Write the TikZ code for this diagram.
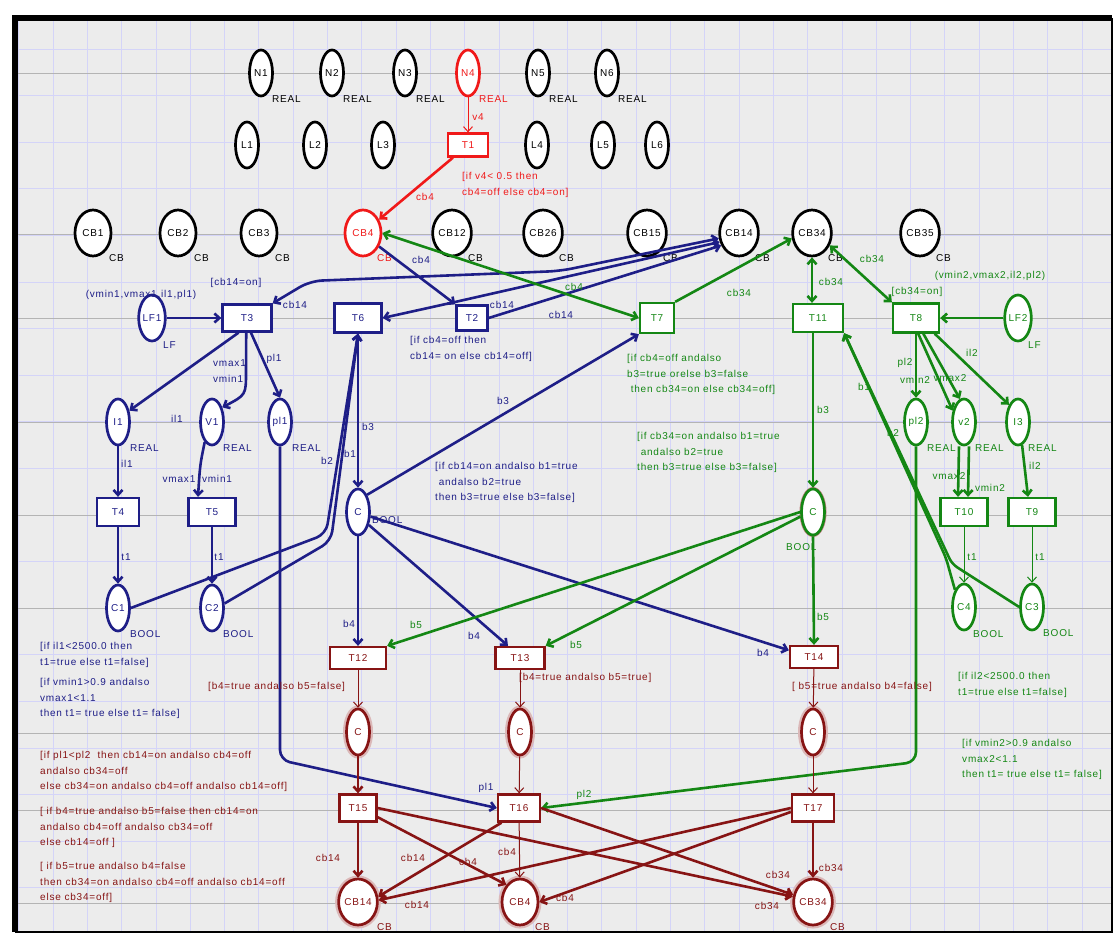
\documentclass[tikz,border=0pt]{standalone}
\usepackage{fontspec}
\setmainfont{Liberation Sans}[LetterSpace=8.0]
\usetikzlibrary{arrows.meta,shapes.geometric}
\definecolor{navyc}{RGB}{30,30,135}
\definecolor{grnc}{RGB}{20,135,20}
\definecolor{redc}{RGB}{240,25,25}
\definecolor{dredc}{RGB}{135,20,20}
\definecolor{bgc}{RGB}{236,236,236}
\definecolor{gridc}{RGB}{212,212,248}
\definecolor{guidec}{RGB}{180,180,180}

\tikzset{
  place/.style={ellipse, draw, line width=2.7pt, fill=white, inner sep=0pt,
    minimum width=23pt, minimum height=46pt},
  cbplace/.style={place, minimum width=36pt},
  trans/.style={rectangle, draw, line width=2.3pt, fill=white, inner sep=0pt,
    minimum width=46pt, minimum height=27pt},
  glow/.style={preaction={draw=dredc!30, line width=7pt}},
  arc/.style={->, line width=2.6pt},
  tarc/.style={->, line width=1pt},
  lbl/.style={inner sep=0pt},
  typ/.style={inner sep=0pt, anchor=west},
  cond/.style={inner sep=0pt, anchor=north west, align=left}
}

\begin{document}
\begin{tikzpicture}[x=1pt, y=-1pt, >={Straight Barb[length=5pt,width=9pt]},
  font=\fontsize{10}{15.7}\selectfont]
\useasboundingbox (0,0) rectangle (1116,935);
% sheet and grid
\fill[white] (0,0) rectangle (1116,935);
\fill[bgc] (15,18) rectangle (1112,932);
\begin{scope}
\clip (15,18) rectangle (1112,932);
\foreach \i in {0,...,31}
  \draw[gridc, line width=0.8pt] ({18.7+34.3*\i},18) -- ++(0,914);
\foreach \j in {0,...,18}
  \draw[gridc, line width=0.8pt] (15,{49+46.6*\j}) -- ++(1097,0);
\foreach \y in {73,234,318,422,515,608,733,810,903}
  \draw[guidec, line width=0.8pt] (15,\y) -- ++(1097,0);
\end{scope}
\draw[line width=6pt] (15,932) -- (15,18) -- (1112,18);
\draw[line width=2.5pt] (1112,18) -- (1112,932) -- (15,932);

% top rows
\foreach \n/\x in {1/261,2/332,3/405,5/538,6/607}{
  \node[place] (N\n) at (\x,73) {N\n};
  \node[typ] (tN\n) at (\x+11,99) {REAL};
}
\node[place, draw=redc, text=redc] (N4) at (468,73) {N4};
\node[typ, text=redc] (tN4) at (479,99) {REAL};
\foreach \n/\x in {1/247,2/315,3/383,4/537,5/603,6/657}
  \node[place] (L\n) at (\x,145) {L\n};
\foreach \n/\x in {1/93,2/178,3/259,12/452,26/543,15/647,14/739,34/812,35/920}{
  \node[cbplace] (CB\n) at (\x,233) {CB\n};
  \node[typ] (tCB\n) at (\x+16,258) {CB};
}
\node[cbplace, draw=redc, text=redc] (CB4) at (363,233) {CB4};
\node[typ, text=redc] (tCB4) at (377,258) {CB};
\node[trans, draw=redc, text=redc, minimum width=40pt, minimum height=23pt] (T1) at (468,145) {T1};

% feeder 1
\begin{scope}[color=navyc]
\node[place] (LF1) at (152,318) {LF1};
\node[typ] (tLF1) at (163,345) {LF};
\node[trans, minimum width=49pt] (T3) at (247,318) {T3};
\node[trans, minimum width=47pt, minimum height=29pt] (T6) at (358,318) {T6};
\node[trans, minimum width=31pt, minimum height=25pt] (T2) at (472,318) {T2};
\node[place] (I1) at (118,422) {I1};
\node[place] (V1) at (212,422) {V1};
\node[place] (pl1) at (280,422) {pl1};
\node[typ] (tI1) at (130,448) {REAL};
\node[typ] (tV1) at (223,448) {REAL};
\node[typ] (tpl1) at (292,448) {REAL};
\node[trans, minimum width=42pt, minimum height=28pt] (T4) at (118,512) {T4};
\node[trans, minimum width=47pt, minimum height=28pt] (T5) at (212,512) {T5};
\node[place] (C1) at (118,608) {C1};
\node[place] (C2) at (212,608) {C2};
\node[typ] (tC1) at (130,634) {BOOL};
\node[typ] (tC2) at (223,634) {BOOL};
\node[place] (Cb) at (358,512) {C};
\node[typ] (tCb) at (372,520) {BOOL};
\end{scope}

% feeder 2
\begin{scope}[color=grnc]
\node[place] (LF2) at (1018,318) {LF2};
\node[typ] (tLF2) at (1028,345) {LF};
\node[trans, minimum width=34pt, minimum height=30pt] (T7) at (657,318) {T7};
\node[trans, minimum width=50pt, minimum height=28pt] (T11) at (818,318) {T11};
\node[trans, minimum width=46pt, minimum height=29pt] (T8) at (916,318) {T8};
\node[place] (pl2) at (916,422) {pl2};
\node[place] (v2) at (964,422) {v2};
\node[place] (I3) at (1018,422) {I3};
\node[typ] (tpl2) at (927,448) {REAL};
\node[typ] (tv2) at (975,448) {REAL};
\node[typ] (tI3) at (1028,448) {REAL};
\node[trans, minimum width=47pt, minimum height=28pt] (T10) at (964,512) {T10};
\node[trans, minimum width=47pt, minimum height=28pt] (T9) at (1032,512) {T9};
\node[place] (C4) at (964,607) {C4};
\node[place] (C3) at (1032,607) {C3};
\node[typ] (tC4) at (973,634) {BOOL};
\node[typ] (tC3) at (1043,633) {BOOL};
\node[place, preaction={draw=dredc!55, line width=4pt}] (Cg) at (813,512) {C};
\node[typ] (tCg) at (786,547) {BOOL};
\end{scope}

% breaker logic
\begin{scope}[color=dredc]
\node[trans, minimum width=56pt, minimum height=22pt] (T12) at (358,658) {T12};
\node[trans, minimum width=49pt, minimum height=22pt] (T13) at (520,658) {T13};
\node[trans, minimum width=48pt, minimum height=22pt] (T14) at (814,657) {T14};
\node[place, glow] (Cr1) at (358,732) {C};
\node[place, glow] (Cr2) at (520,732) {C};
\node[place, glow] (Cr3) at (813,732) {C};
\node[trans, minimum width=37pt] (T15) at (358,808) {T15};
\node[trans, minimum width=42pt] (T16) at (519,808) {T16};
\node[trans, minimum width=42pt] (T17) at (813,808) {T17};
\node[cbplace, glow] (CBr14) at (358,902) {CB14};
\node[cbplace, glow] (CBr4) at (520,902) {CB4};
\node[cbplace, glow] (CBr34) at (813,902) {CB34};
\node[typ] (tCBr14) at (377,927) {CB};
\node[typ] (tCBr4) at (535,927) {CB};
\node[typ] (tCBr34) at (830,927) {CB};
\end{scope}

% arcs: red
\draw[tarc, redc] (N4) -- (T1);
\node[lbl, text=redc] (a1) at (478,117) {v4};
\draw[arc, redc] (T1) -- (CB4);
\node[lbl, text=redc] (a2) at (425,197) {cb4};
\node[cond, text=redc] (g1) at (462,172) {[if v4< 0.5 then\\cb4=off else cb4=on]};

% arcs: feeder 1
\begin{scope}[color=navyc]
\draw[arc] (LF1) -- (T3);
\draw[arc, <->, rounded corners=12pt] (CB14.195) -- (560,271) -- (310,281) -- (T3.north east);
\node[lbl] (a3) at (295,305) {cb14};
\draw[arc, <->] (CB14.205) -- (455,302) -- (T6.east);
\node[lbl] (a4) at (502,305) {cb14};
\draw[arc] (T2.east) -- (CB14.215);
\node[lbl] (a5) at (561,315) {cb14};
\draw[arc] (CB4.-40) -- (T2.north west);
\node[lbl] (a6) at (421,260) {cb4};
\draw[arc] (T3.-120) -- (I1.45);
\node[lbl] (a7) at (177,419) {il1};
\draw[arc] (T3.-93) -- (246,372) .. controls (246,395) .. (V1.55);
\node[lbl, anchor=west, align=left] (a8) at (213,371) {vmax1\\[-0.5pt]vmin1};
\draw[arc] (T3.-75) -- (pl1.north);
\node[lbl] (a9) at (274,359) {pl1};
\draw[arc] (I1) -- (T4);
\node[lbl] (a10) at (127,464) {il1};
\draw[arc] (V1.-110) .. controls (200,465) .. ([xshift=-14pt]T5.north);
\node[lbl] (a11) at (179,479) {vmax1};
\node[lbl] (a12) at (217,479) {vmin1};
\draw[arc] (T4) -- (C1);
\node[lbl] (a13) at (126,557) {t1};
\draw[arc] (T5) -- (C2);
\node[lbl] (a14) at (219,557) {t1};
\draw[arc, rounded corners=10pt] (C1.east) -- (326,534) -- (T6.south);
\draw[arc, rounded corners=10pt] (C2.20) -- (331,541) -- (T6.south);
\node[lbl] (a15) at (327,461) {b2};
\node[lbl] (a16) at (350,454) {b1};
\draw[arc] (T6.south) -- (Cb.north);
\node[lbl] (a17) at (368,427) {b3};
\draw[arc] (Cb.north east) -- (T7.south west);
\node[lbl] (a18) at (503,401) {b3};
\draw[arc] (Cb.south) -- (T12.north);
\node[lbl] (a19) at (349,624) {b4};
\draw[arc] (Cb.-50) -- ([xshift=-12pt]T13.north);
\node[lbl] (a20) at (474,636) {b4};
\draw[arc] (Cb.-20) -- (T14.165);
\node[lbl] (a21) at (763,653) {b4};
\draw[arc, rounded corners=10pt] (pl1.south) -- (280,760) -- (T16.west);
\node[lbl] (a22) at (486,788) {pl1};
\node[lbl] (g2) at (236,283) {[cb14=on]};
\node[lbl] (g3) at (141,295) {(vmin1,vmax1,il1,pl1)};
\node[cond] (g4) at (410,336) {[if cb4=off then\\cb14= on else cb14=off]};
\node[cond] (g5) at (435,462) {[if cb14=on andalso b1=true\\\ andalso b2=true\\then b3=true else b3=false]};
\node[cond] (g6) at (40,642) {[if il1<2500.0 then\\t1=true else t1=false]};
\node[cond] (g7) at (40,678) {[if vmin1>0.9 andalso\\vmax1<1.1\\then t1= true else t1= false]};
\end{scope}

% arcs: feeder 2
\begin{scope}[color=grnc]
\draw[arc, <->] (CB4.east) .. controls (470,262) and (560,292) .. (T7.west);
\node[lbl] (b1) at (574,287) {cb4};
\draw[arc] (T7.north east) -- (CB34.195);
\node[lbl] (b2) at (739,293) {cb34};
\draw[arc, <->] (CB34.south) -- (CB34.south |- T11.north);
\node[lbl] (b3) at (831,282) {cb34};
\draw[arc, <->] (CB34.-35) -- (T8.north west);
\node[lbl] (b4) at (872,259) {cb34};
\draw[arc] (LF2) -- (T8);
\draw[arc] (T8.south) -- (pl2.north);
\node[lbl] (b5) at (905,363) {pl2};
\node[lbl] (b6) at (915,380) {vmin2};
\draw[arc] (T8.-82) -- (v2.135);
\draw[arc] (T8.-65) -- (v2.100);
\node[lbl] (b7) at (950,378) {vmax2};
\draw[arc] (T8.-40) -- (I3.north west);
\node[lbl] (b8) at (972,353) {il2};
\draw[arc] ([xshift=-5pt]v2.south) -- ([xshift=-6pt]T10.north);
\draw[arc] ([xshift=5pt]v2.south) -- ([xshift=4pt]T10.north);
\node[lbl] (b9) at (949,476) {vmax2};
\node[lbl] (b10) at (990,488) {vmin2};
\draw[arc] (I3.-80) -- ([xshift=-4pt]T9.north);
\node[lbl] (b11) at (1035,466) {il2};
\draw[tarc] (T10) -- (C4);
\node[lbl] (b12) at (972,557) {t1};
\draw[tarc] (T9) -- (C3);
\node[lbl] (b13) at (1040,557) {t1};
\draw[arc, rounded corners=6pt] (C4.north west) -- (946,558) -- (T11.south east);
\draw[arc, rounded corners=6pt] (C3.west) -- (952,564) -- (T11.south east);
\node[lbl] (b14) at (864,387) {b1};
\node[lbl] (b15) at (893,433) {b2};
\draw[arc] (Cg.north |- T11.south) -- (Cg.north);
\node[lbl] (b16) at (823,410) {b3};
\draw[arc] (Cg.west) -- (T12.north east);
\node[lbl] (b17) at (416,625) {b5};
\draw[arc] (Cg.200) -- (T13.north east);
\node[lbl] (b18) at (576,645) {b5};
\draw[arc] (Cg.south) -- (T14.north);
\node[lbl] (b19) at (823,617) {b5};
\draw[arc, rounded corners=10pt] (pl2.south) -- (916,762) -- (T16.east);
\node[lbl] (b20) at (584,795) {pl2};
\node[lbl] (g8) at (917,292) {[cb34=on]};
\node[lbl] (g9) at (990,276) {(vmin2,vmax2,il2,pl2)};
\node[cond] (g10) at (627,354) {[if cb4=off andalso\\b3=true orelse b3=false\\\ then cb34=on else cb34=off]};
\node[cond] (g11) at (637,432) {[if cb34=on andalso b1=true\\\ andalso b2=true\\then b3=true else b3=false]};
\node[cond] (g12) at (958,672) {[if il2<2500.0 then\\t1=true else t1=false]};
\node[cond] (g13) at (962,739) {[if vmin2>0.9 andalso\\vmax2<1.1\\then t1= true else t1= false]};
\end{scope}

% arcs: breaker logic
\begin{scope}[color=dredc]
\draw[tarc] (T12) -- (Cr1);
\draw[arc] (Cr1) -- (T15);
\draw[tarc] (T13) -- (Cr2);
\draw[tarc] (Cr2) -- (T16);
\draw[tarc] (T14) -- (Cr3);
\draw[tarc] (Cr3) -- (T17);
\draw[arc] (T15) -- (CBr14);
\node[lbl] (c1) at (328,858) {cb14};
\draw[arc] (T15.-25) -- (CBr4.north west);
\node[lbl] (c2) at (468,862) {cb4};
\draw[arc] (T15.east) -- (CBr34.165);
\node[lbl] (c3) at (778,875) {cb34};
\draw[arc] (T16.-140) -- (CBr14.15);
\node[lbl] (c4) at (413,858) {cb14};
\draw[tarc] (T16) -- (CBr4);
\node[lbl] (c5) at (507,852) {cb4};
\draw[arc] (T16.east) -- (CBr34.160);
\node[lbl] (c6) at (767,906) {cb34};
\draw[arc] (T17.west) -- (CBr14.5);
\node[lbl] (c7) at (417,905) {cb14};
\draw[arc] (T17.-170) -- (CBr4.east);
\node[lbl] (c8) at (565,898) {cb4};
\draw[arc] (T17) -- (CBr34);
\node[lbl] (c9) at (831,868) {cb34};
\node[cond] (g14) at (208,682) {[b4=true andalso b5=false]};
\node[cond] (g15) at (519,673) {[b4=true andalso b5=true]};
\node[cond] (g16) at (792,682) {[ b5=true andalso b4=false]};
\node[cond] (g17) at (40,751) {[if pl1<pl2\ \ then cb14=on andalso cb4=off\\andalso cb34=off\\else cb34=on andalso cb4=off andalso cb14=off]};
\node[cond] (g18) at (40,807) {[ if b4=true andalso b5=false then cb14=on\\andalso cb4=off andalso cb34=off\\else cb14=off ]};
\node[cond] (g19) at (40,862) {[ if b5=true andalso b4=false\\then cb34=on andalso cb4=off andalso cb14=off\\else cb34=off]};
\end{scope}
\end{tikzpicture}
\end{document}
